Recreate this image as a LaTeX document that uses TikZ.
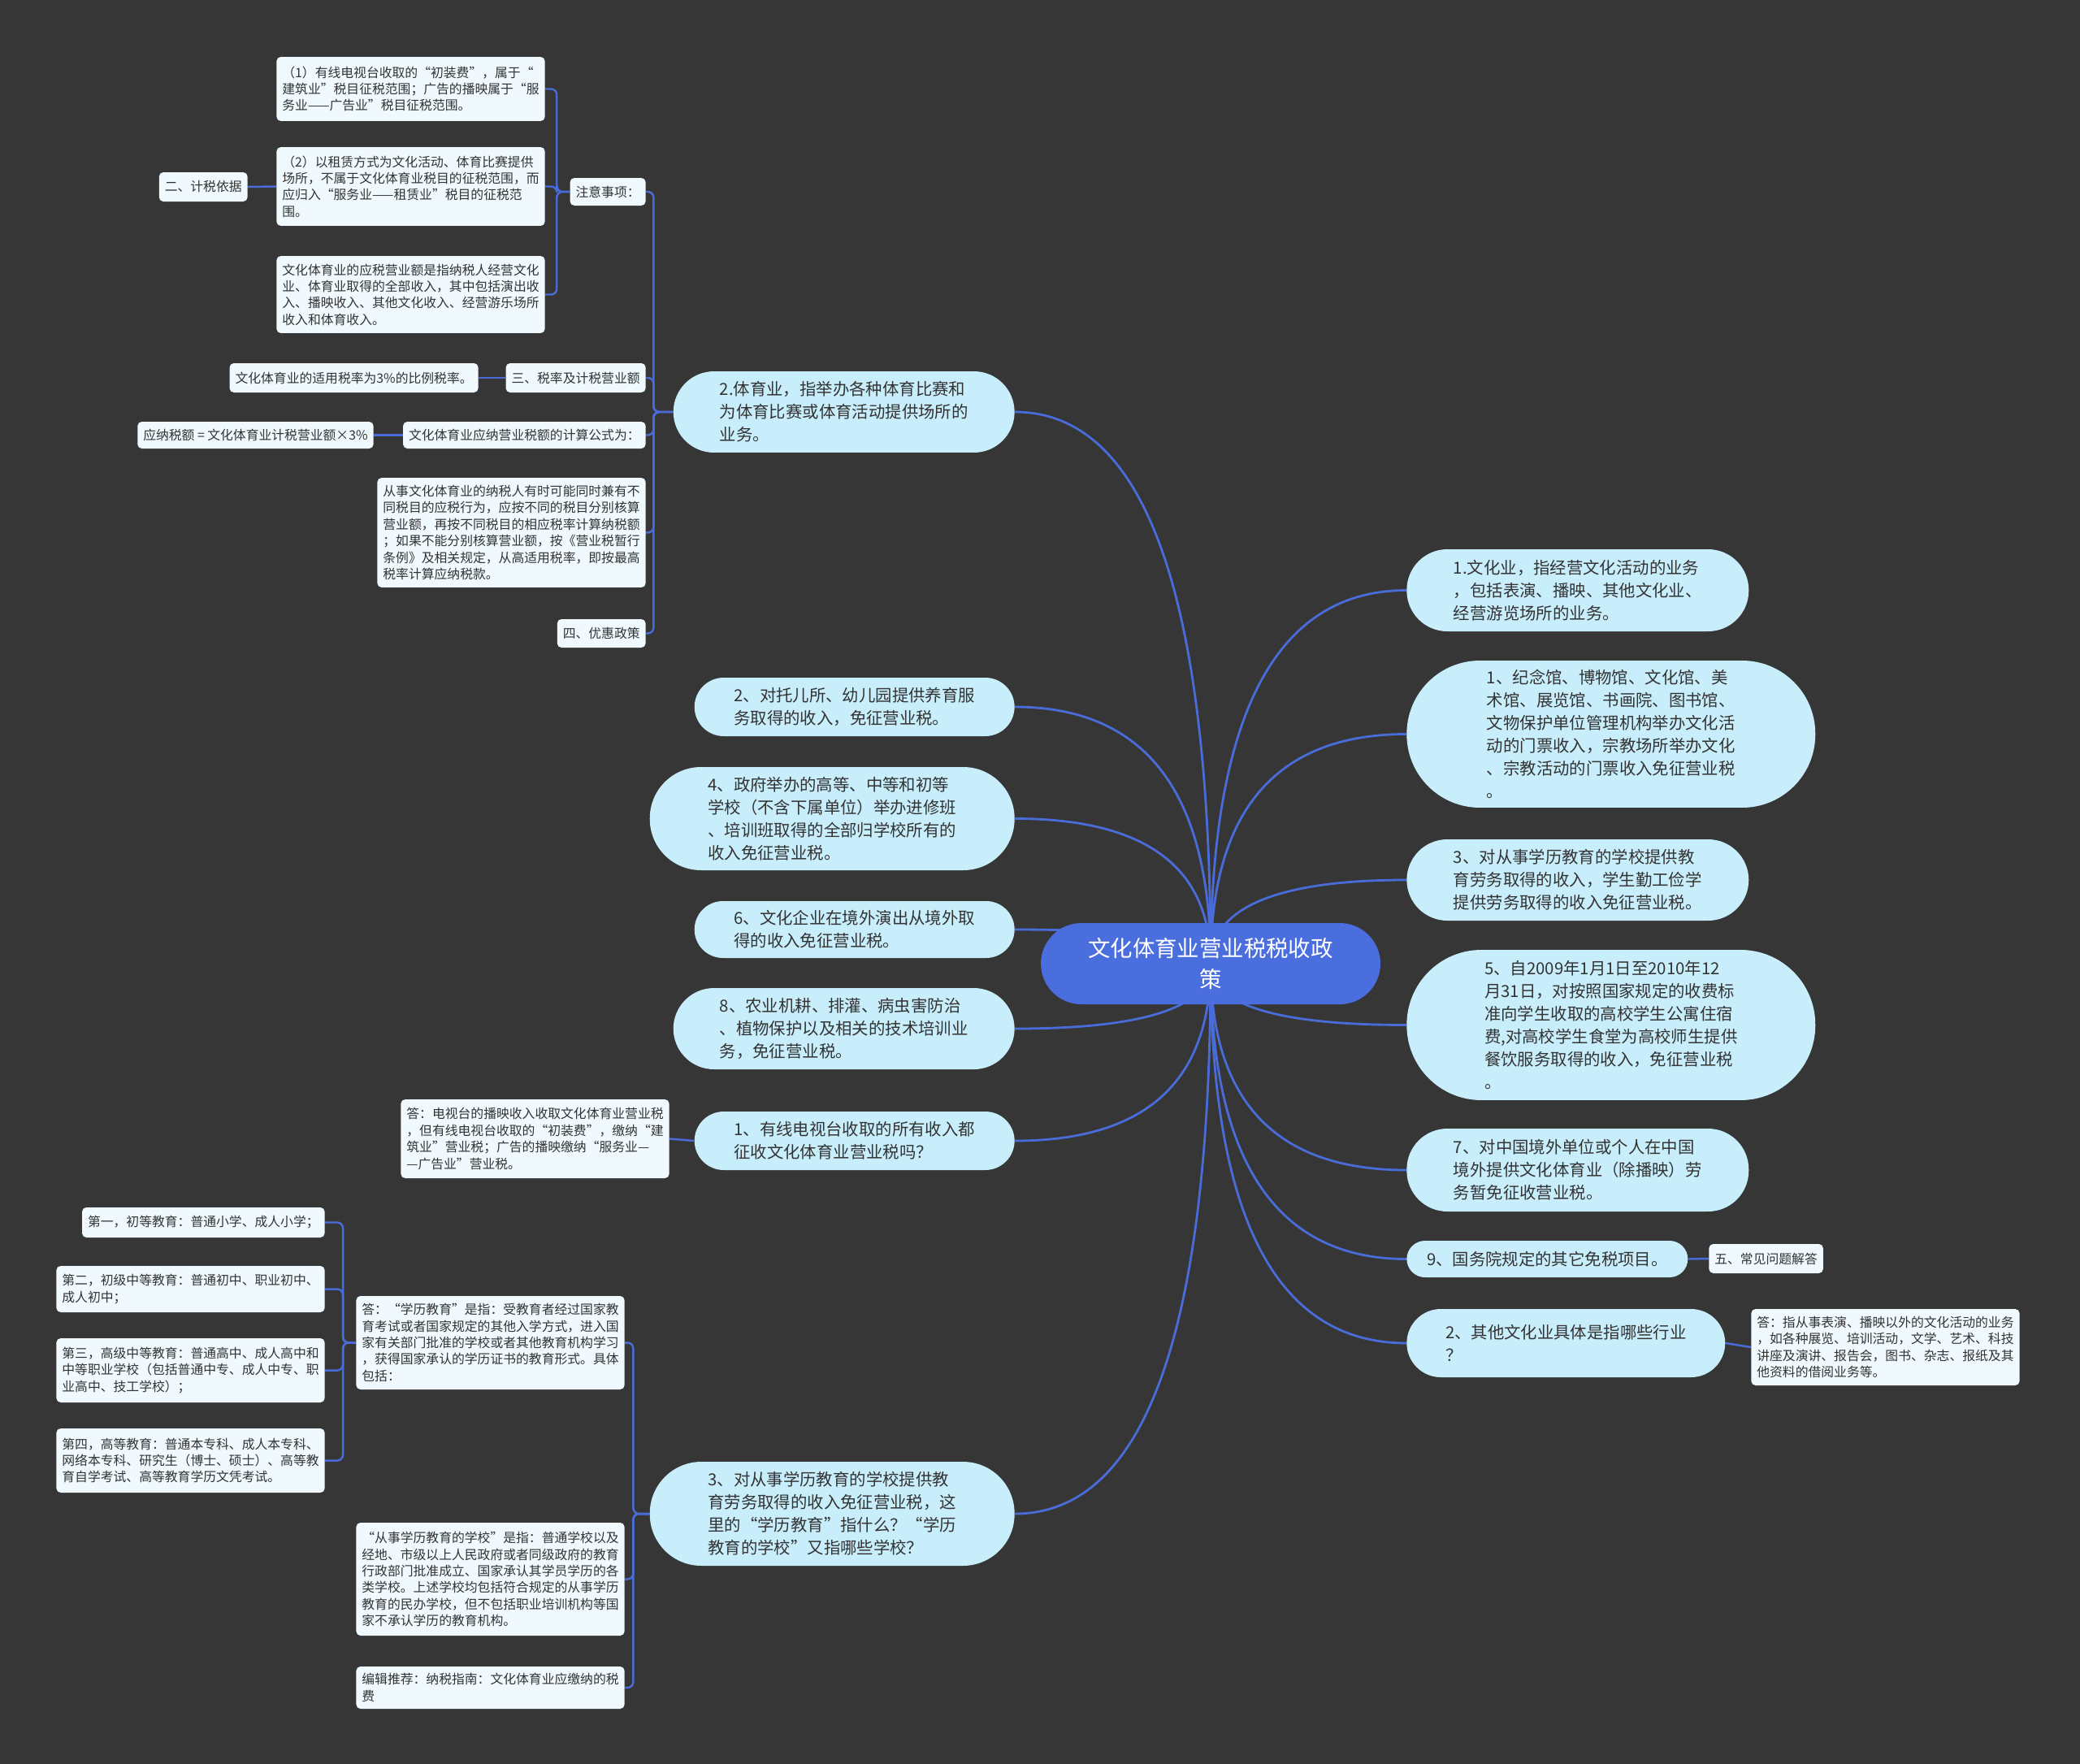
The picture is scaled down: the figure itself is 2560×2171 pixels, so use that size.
\documentclass[tikz,border=0pt]{standalone}
\usepackage{fontspec}
\setmainfont{Noto Sans CJK SC}
\usetikzlibrary{calc}
\definecolor{bgDark}{HTML}{363636}
\definecolor{rootBlue}{HTML}{4B6EDF}
\definecolor{linkBlue}{HTML}{4A6CD8}
\definecolor{pillBlue}{HTML}{C8EDFB}
\definecolor{leafWhite}{HTML}{EFF9FE}
\definecolor{inkDark}{HTML}{333333}
\pgfdeclarelayer{bg}
\pgfdeclarelayer{links}
\pgfsetlayers{bg,links,main}
\tikzset{
  root/.style={fill=rootBlue, text=white, rounded corners=1cm, align=center,
               minimum width=8.36cm, minimum height=2cm, font=\fontsize{15.6pt}{21.6pt}\selectfont},
  pill/.style={fill=pillBlue, text=inkDark, align=left, inner sep=0pt,
               font=\fontsize{11.6pt}{15.9pt}\selectfont},
  leaf/.style={fill=leafWhite, text=inkDark, align=left, rounded corners=3pt,
               inner xsep=0.14cm, inner ysep=0.08cm, font=\fontsize{9pt}{11.6pt}\selectfont},
  limb/.style={draw=linkBlue, line width=1.6pt},
  twig/.style={draw=linkBlue, line width=1.4pt, rounded corners=4pt},
  sweep/.style={to path={.. controls ($(\tikztostart)!0.667!(\tikztostart |- \tikztotarget)$)
               and ($(\tikztotarget)!0.667!(\tikztostart |- \tikztotarget)$) .. (\tikztotarget)}},
}
\begin{document}
\begin{tikzpicture}[x=0.02cm, y=-0.02cm]
\useasboundingbox (0,0) rectangle (2560,2171);
\begin{pgfonlayer}{bg}
\fill[bgDark] (0,0) rectangle (2560,2171);
\end{pgfonlayer}

% centre
\node[root] (root) at (1490,1186) {文化体育业营业税税收政\\策};

% right branch
\node[pill, anchor=west, minimum width=8.42cm, minimum height=2.02cm, rounded corners=1cm] (r1) at (1731,726.5)
  {1.文化业，指经营文化活动的业务\\，包括表演、播映、其他文化业、\\经营游览场所的业务。};
\node[pill, anchor=west, minimum width=10.06cm, minimum height=3.62cm, rounded corners=1.8cm] (r2) at (1731,903.5)
  {1、纪念馆、博物馆、文化馆、美\\术馆、展览馆、书画院、图书馆、\\文物保护单位管理机构举办文化活\\动的门票收入，宗教场所举办文化\\、宗教活动的门票收入免征营业税\\。};
\node[pill, anchor=west, minimum width=8.42cm, minimum height=2cm, rounded corners=1cm] (r3) at (1731,1083)
  {3、对从事学历教育的学校提供教\\育劳务取得的收入，学生勤工俭学\\提供劳务取得的收入免征营业税。};
\node[pill, anchor=west, minimum width=10.06cm, minimum height=3.7cm, rounded corners=1.84cm] (r4) at (1731,1261.5)
  {5、自2009年1月1日至2010年12\\月31日，对按照国家规定的收费标\\准向学生收取的高校学生公寓住宿\\费,对高校学生食堂为高校师生提供\\餐饮服务取得的收入，免征营业税\\。};
\node[pill, anchor=west, minimum width=8.42cm, minimum height=2.04cm, rounded corners=1cm] (r5) at (1731,1440)
  {7、对中国境外单位或个人在中国\\境外提供文化体育业（除播映）劳\\务暂免征收营业税。};
\node[pill, anchor=west, minimum width=6.92cm, minimum height=0.9cm, rounded corners=0.45cm] (r6) at (1731,1549.5)
  {9、国务院规定的其它免税项目。};
\node[pill, anchor=west, minimum width=7.84cm, minimum height=1.68cm, rounded corners=0.84cm] (r7) at (1731,1653)
  {2、其他文化业具体是指哪些行业\\？};
\node[leaf, anchor=west, minimum height=0.72cm] (q5) at (2103,1549) {五、常见问题解答};
\node[leaf, anchor=west, minimum height=1.88cm] (a2) at (2155,1658)
  {答：指从事表演、播映以外的文化活动的业务\\，如各种展览、培训活动，文学、艺术、科技\\讲座及演讲、报告会，图书、杂志、报纸及其\\他资料的借阅业务等。};

% left branch
\node[pill, anchor=east, minimum width=8.4cm, minimum height=2cm, rounded corners=1cm] (l1) at (1249,507)
  {2.体育业，指举办各种体育比赛和\\为体育比赛或体育活动提供场所的\\业务。};
\node[pill, anchor=east, minimum width=7.88cm, minimum height=1.44cm, rounded corners=0.72cm] (l2) at (1249,870)
  {2、对托儿所、幼儿园提供养育服\\务取得的收入，免征营业税。};
\node[pill, anchor=east, minimum width=8.98cm, minimum height=2.54cm, rounded corners=1.26cm] (l3) at (1249,1007.5)
  {4、政府举办的高等、中等和初等\\学校（不含下属单位）举办进修班\\、培训班取得的全部归学校所有的\\收入免征营业税。};
\node[pill, anchor=east, minimum width=7.88cm, minimum height=1.4cm, rounded corners=0.7cm] (l4) at (1249,1144)
  {6、文化企业在境外演出从境外取\\得的收入免征营业税。};
\node[pill, anchor=east, minimum width=8.4cm, minimum height=2cm, rounded corners=1cm] (l5) at (1249,1266)
  {8、农业机耕、排灌、病虫害防治\\、植物保护以及相关的技术培训业\\务，免征营业税。};
\node[pill, anchor=east, minimum width=7.88cm, minimum height=1.44cm, rounded corners=0.72cm] (l6) at (1249,1404)
  {1、有线电视台收取的所有收入都\\征收文化体育业营业税吗？};
\node[pill, anchor=east, minimum width=8.98cm, minimum height=2.56cm, rounded corners=1.27cm] (l7) at (1249,1863)
  {3、对从事学历教育的学校提供教\\育劳务取得的收入免征营业税，这\\里的“学历教育”指什么？“学历\\教育的学校”又指哪些学校？};

% sports items
\node[leaf, anchor=east, minimum height=0.68cm] (n1) at (795,236) {注意事项：};
\node[leaf, anchor=east, minimum height=0.72cm] (n2) at (795,465) {三、税率及计税营业额};
\node[leaf, anchor=east, minimum height=0.66cm] (n3) at (795,535.5) {文化体育业应纳营业税额的计算公式为：};
\node[leaf, anchor=east, minimum height=2.7cm] (n4) at (795,655.5)
  {从事文化体育业的纳税人有时可能同时兼有不\\同税目的应税行为，应按不同的税目分别核算\\营业额，再按不同税目的相应税率计算纳税额\\；如果不能分别核算营业额，按《营业税暂行\\条例》及相关规定，从高适用税率，即按最高\\税率计算应纳税款。};
\node[leaf, anchor=east, minimum height=0.7cm] (n5) at (795,779.5) {四、优惠政策};
\node[leaf, anchor=east, minimum height=1.58cm] (m1) at (671,109.5)
  {（1）有线电视台收取的“初装费”，属于“\\建筑业”税目征税范围；广告的播映属于“服\\务业——广告业”税目征税范围。};
\node[leaf, anchor=east, minimum height=1.94cm] (m2) at (671,229.5)
  {（2）以租赁方式为文化活动、体育比赛提供\\场所，不属于文化体育业税目的征税范围，而\\应归入“服务业——租赁业”税目的征税范\\围。};
\node[leaf, anchor=east, minimum height=1.9cm] (m3) at (671,362.5)
  {文化体育业的应税营业额是指纳税人经营文化\\业、体育业取得的全部收入，其中包括演出收\\入、播映收入、其他文化收入、经营游乐场所\\收入和体育收入。};
\node[leaf, anchor=east, minimum height=0.72cm] (k1) at (305,230) {二、计税依据};
\node[leaf, anchor=east, minimum height=0.72cm] (t1) at (589,465) {文化体育业的适用税率为3\%的比例税率。};
\node[leaf, anchor=east, minimum height=0.66cm] (t2) at (460,535.5) {应纳税额 = 文化体育业计税营业额×3\%};

% answers
\node[leaf, anchor=east, minimum height=1.94cm] (a1) at (824,1401.5)
  {答：电视台的播映收入收取文化体育业营业税\\，但有线电视台收取的“初装费”，缴纳“建\\筑业”营业税；广告的播映缴纳“服务业—\\—广告业”营业税。};
\node[leaf, anchor=east, minimum height=2.3cm] (e1) at (769,1652.5)
  {答：“学历教育”是指：受教育者经过国家教\\育考试或者国家规定的其他入学方式，进入国\\家有关部门批准的学校或者其他教育机构学习\\，获得国家承认的学历证书的教育形式。具体\\包括：};
\node[leaf, anchor=east, minimum height=2.78cm] (e2) at (769,1943.5)
  {“从事学历教育的学校”是指：普通学校以及\\经地、市级以上人民政府或者同级政府的教育\\行政部门批准成立、国家承认其学员学历的各\\类学校。上述学校均包括符合规定的从事学历\\教育的民办学校，但不包括职业培训机构等国\\家不承认学历的教育机构。};
\node[leaf, anchor=east, minimum height=1.04cm] (e3) at (769,2077)
  {编辑推荐：纳税指南：文化体育业应缴纳的税\\费};
\node[leaf, anchor=east, minimum height=0.74cm] (f1) at (400,1504.5) {第一，初等教育：普通小学、成人小学；};
\node[leaf, anchor=east, minimum height=1.14cm] (f2) at (400,1586.5)
  {第二，初级中等教育：普通初中、职业初中、\\成人初中；};
\node[leaf, anchor=east, minimum height=1.58cm] (f3) at (400,1686.5)
  {第三，高级中等教育：普通高中、成人高中和\\中等职业学校（包括普通中专、成人中专、职\\业高中、技工学校）；};
\node[leaf, anchor=east, minimum height=1.58cm] (f4) at (400,1797.5)
  {第四，高等教育：普通本专科、成人本专科、\\网络本专科、研究生（博士、硕士）、高等教\\育自学考试、高等教育学历文凭考试。};

% connectors
\begin{pgfonlayer}{links}
\foreach \n in {r1,r2,r3,r4,r5,r6,r7}
  \draw[limb] (root.center) to[sweep] (\n.west);
\foreach \n in {l1,l2,l3,l4,l5,l6,l7}
  \draw[limb] (root.center) to[sweep] (\n.east);
\foreach \n in {n1,n2,n3,n4,n5}
  \draw[twig] (l1.west) -- ++(-24,0) |- (\n.east);
\foreach \n in {m1,m2,m3}
  \draw[twig] (n1.west) -- ++(-16,0) |- (\n.east);
\foreach \n in {e1,e2,e3}
  \draw[twig] (l7.west) -- ++(-20,0) |- (\n.east);
\foreach \n in {f1,f2,f3,f4}
  \draw[twig] (e1.west) -- ++(-16,0) |- (\n.east);
\draw[twig] (m2.west) -- (k1.east);
\draw[twig] (n2.west) -- (t1.east);
\draw[twig] (n3.west) -- (t2.east);
\draw[twig] (l6.west) -- (a1.east);
\draw[twig] (r6.east) -- (q5.west);
\draw[twig] (r7.east) -- (a2.west);
\end{pgfonlayer}
\end{tikzpicture}
\end{document}
